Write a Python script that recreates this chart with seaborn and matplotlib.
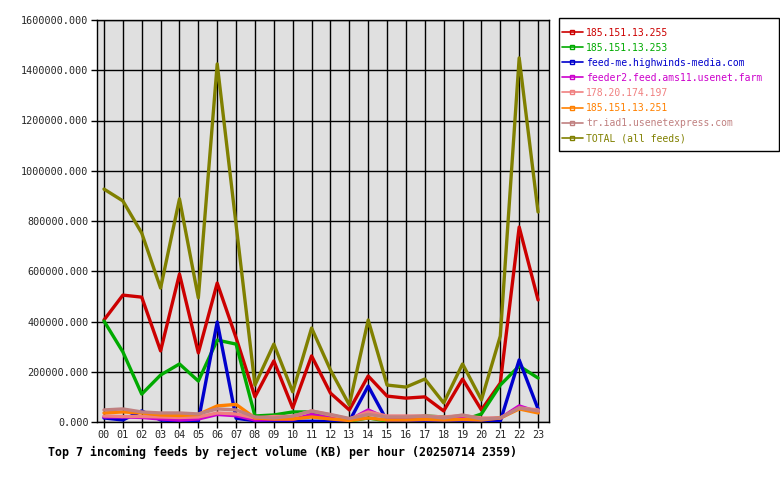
import matplotlib
matplotlib.use("Agg")
import matplotlib.pyplot as plt
import seaborn as sns
import pandas as pd
from matplotlib.lines import Line2D
from matplotlib.patches import Rectangle
from matplotlib.ticker import FuncFormatter, MultipleLocator

hours = [f"{h:02d}" for h in range(24)]

feeds = [
    "185.151.13.255",
    "185.151.13.253",
    "feed-me.highwinds-media.com",
    "feeder2.feed.ams11.usenet.farm",
    "178.20.174.197",
    "185.151.13.251",
    "tr.iad1.usenetexpress.com",
    "TOTAL (all feeds)",
]
colors = ["#cc0000", "#00aa00", "#0000cc", "#cc00cc", "#f08080", "#ff8000", "#c08080", "#808000"]

s_255 = [406, 505, 497, 283, 589, 275, 553, 335, 100, 243, 56, 263, 115, 48, 183, 103, 95, 100, 44, 171, 48, 155, 776, 486]
s_253 = [402, 279, 111, 187, 231, 163, 326, 310, 24, 28, 40, 40, 16, 4, 16, 4, 6, 24, 20, 6, 32, 147, 223, 175]
s_feedme = [16, 8, 44, 8, 4, 4, 398, 15, 5, 3, 3, 3, 3, 3, 143, 4, 3, 3, 3, 3, 3, 3, 247, 52]
s_feeder2 = [20, 20, 18, 12, 8, 12, 30, 25, 8, 10, 10, 30, 15, 8, 48, 15, 15, 15, 12, 20, 12, 15, 64, 40]
s_178 = [24, 22, 22, 20, 18, 20, 36, 32, 16, 22, 22, 44, 28, 12, 40, 24, 24, 24, 20, 26, 16, 16, 56, 48]
s_251 = [36, 40, 36, 28, 26, 30, 64, 70, 16, 12, 12, 20, 12, 6, 16, 8, 8, 10, 8, 10, 8, 16, 52, 36]
s_iad1 = [48, 52, 40, 36, 36, 32, 52, 48, 20, 16, 24, 44, 30, 14, 30, 20, 20, 24, 16, 28, 12, 16, 56, 44]
s_total = [927, 880, 752, 533, 888, 494, 1425, 785, 147, 310, 120, 374, 207, 68, 406, 147, 139, 171, 76, 231, 88, 342, 1449, 836]

series = [s_255, s_253, s_feedme, s_feeder2, s_178, s_251, s_iad1, s_total]

rows = []
for name, vals in zip(feeds, series):
    for i, v in enumerate(vals):
        rows.append({"hour": i, "feed": name, "kb": v * 1000.0})
df = pd.DataFrame(rows)

sns.set_style("white")
mono = "DejaVu Sans Mono"
plt.rcParams["font.family"] = [mono]

W, H = 780, 480
fig = plt.figure(figsize=(7.8, 4.8), dpi=100)
ax = fig.add_axes([97 / W, 58 / H, 452 / W, 402 / H])
ax.set_facecolor("#e0e0e0")

sns.lineplot(data=df, x="hour", y="kb", hue="feed", hue_order=feeds,
             palette=dict(zip(feeds, colors)), linewidth=2.4, ax=ax,
             legend=False, zorder=3)

ax.set_xlim(-0.37, 23.58)
ax.set_ylim(0, 1600000)
ax.set_xticks(range(24))
ax.set_xticklabels(hours)
ax.yaxis.set_major_locator(MultipleLocator(200000))
ax.yaxis.set_major_formatter(FuncFormatter(lambda v, p: f"{v:.3f}"))
ax.grid(True, color="black", linewidth=1.0, zorder=1)
ax.set_axisbelow(True)
for sp in ax.spines.values():
    sp.set_color("black")
    sp.set_linewidth(1.0)
ax.tick_params(axis="both", direction="out", length=4, width=1, color="black",
               labelsize=7.3, pad=2, bottom=True, left=True)
ax.set_xlabel("")
ax.set_ylabel("")

# legend box
fig.patches.append(Rectangle((558.5 / W, 1 - 150.5 / H), 220 / W, 133 / H,
                             transform=fig.transFigure, fill=True, facecolor="white",
                             edgecolor="black", linewidth=1.0, zorder=1))

handles = [Line2D([0], [0], color=c, lw=1.2, marker="s", markersize=2.5,
                  markerfacecolor="none", markeredgecolor=c) for c in colors]
leg = fig.legend(handles, feeds, loc="upper left", bbox_to_anchor=(562 / W, 1 - 27.5 / H),
                 frameon=False, fontsize=7.05, handlelength=2.1, handletextpad=0.35,
                 labelspacing=0.52, borderpad=0, borderaxespad=0)
leg.set_zorder(2)
for t, c in zip(leg.get_texts(), colors):
    t.set_color(c)

fig.text(283 / W, 1 - 452 / H, "Top 7 incoming feeds by reject volume (KB) per hour (20250714 2359)",
         ha="center", va="center", fontsize=8.4, fontweight="bold", color="black")

fig.savefig("out.png", dpi=100)
